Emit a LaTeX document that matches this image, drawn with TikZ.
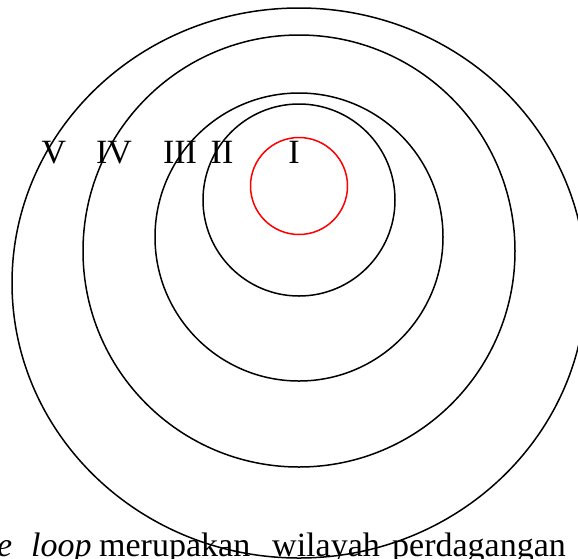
\documentclass[tikz,border=0pt]{standalone}
\usepackage{fontspec}
\setmainfont{Liberation Serif}
\begin{document}
\begin{tikzpicture}[x=1pt, y=-1pt,
    font=\fontsize{34}{40}\selectfont,
    ring/.style={draw=black, line width=1.5pt},
    inti/.style={draw=red, line width=1.5pt},
    lbl/.style={anchor=base, inner sep=0pt},
    teks/.style={anchor=base west, inner sep=0pt},
  ]
  \useasboundingbox (0,0) rectangle (578,558);
  \clip (0,0) rectangle (578,558);

  % =============== LINGKARAN ===========================================
  \draw[inti] (299,186) circle [radius=48.5];
  \draw[ring] (299,200) circle [radius=96];
  \draw[ring] (299,237) circle [radius=144];
  \draw[ring] (299,251) circle [radius=216];
  \draw[ring] (299,283) ellipse [x radius=287, y radius=275];

  % =============== LABEL ZONA ==========================================
  \node[lbl] (zV)   at (54,163)  {V};
  \node[lbl] (zIV)  at (114,163) {IV};
  \node[lbl] (zIII) at (180,163) {III};
  \node[lbl] (zII)  at (222,163) {II};
  \node[lbl] (zI)   at (294,163) {I};

  % =============== TEKS DI BAWAH =======================================
  \node[teks] (t1) at (-3,556)  {\itshape e};
  \node[teks] (t2) at (31,556)  {\itshape loop};
  \node[teks] (t3) at (99,556)  {merupakan};
  \node[teks] (t4) at (272,556) {wilayah};
  \node[teks] (t5) at (392,556) {perdagangan};
\end{tikzpicture}
\end{document}
